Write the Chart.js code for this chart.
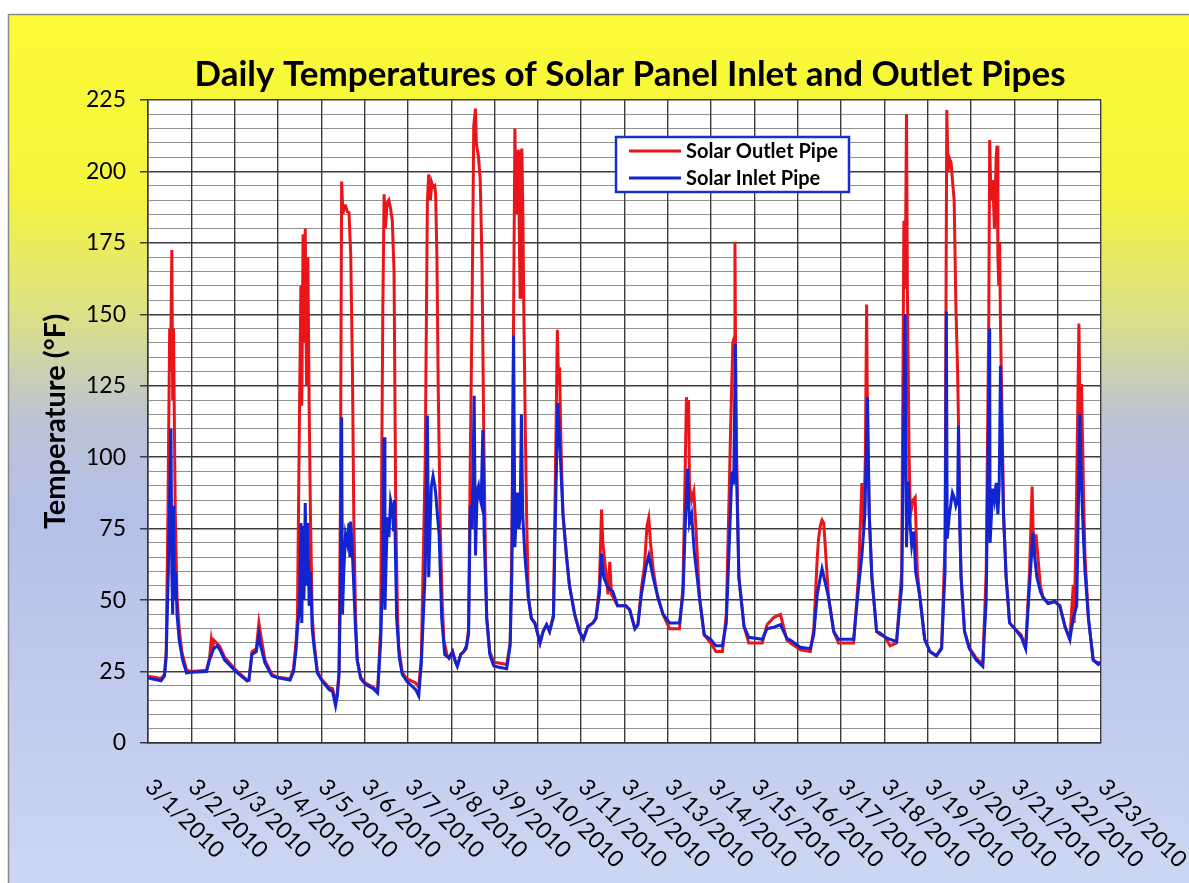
<!DOCTYPE html>
<html>
<head>
<meta charset="utf-8">
<script src="https://cdn.jsdelivr.net/npm/chart.js@4.4.1/dist/chart.umd.min.js"></script>
<style>
  html, body { margin: 0; padding: 0; background: #fff; }
  canvas { display: block; }
</style>
</head>
<body>
<canvas id="myChart" width="1189" height="883"></canvas>
<script>
const ctx = document.getElementById('myChart');

const chartTitle = 'Daily Temperatures of Solar Panel Inlet and Outlet Pipes'
const yTitle = 'Temperature (°F)'
const dayLabels = ['3/1/2010', '3/2/2010', '3/3/2010', '3/4/2010', '3/5/2010', '3/6/2010', '3/7/2010', '3/8/2010',
    '3/9/2010', '3/10/2010', '3/11/2010', '3/12/2010', '3/13/2010', '3/14/2010', '3/15/2010', '3/16/2010',
    '3/17/2010', '3/18/2010', '3/19/2010', '3/20/2010', '3/21/2010', '3/22/2010', '3/23/2010']

// time in days after 3/1/2010 00:00, temperature in °F
const outletDays = [0, 0.3, 0.38, 0.42, 0.46, 0.5, 0.52, 0.55, 0.57, 0.59, 0.61, 0.63, 0.67, 0.72, 0.78, 0.89,
    1.0, 1.35, 1.42, 1.46, 1.49, 1.52, 1.58, 1.65, 1.77, 2.03, 2.29, 2.33, 2.4, 2.5, 2.56, 2.6, 2.7, 2.86,
    3.0, 3.28, 3.36, 3.42, 3.45, 3.5, 3.53, 3.55, 3.58, 3.6, 3.63, 3.66, 3.69, 3.72, 3.75, 3.79, 3.83, 3.91,
    4.02, 4.18, 4.26, 4.33, 4.37, 4.41, 4.44, 4.47, 4.5, 4.53, 4.56, 4.6, 4.64, 4.68, 4.72, 4.75, 4.79, 4.83, 4.91,
    5.02, 5.2, 5.3, 5.37, 5.42, 5.45, 5.48, 5.52, 5.56, 5.6, 5.64, 5.68, 5.72, 5.76, 5.79, 5.87, 5.98,
    6.18, 6.25, 6.31, 6.4, 6.45, 6.48, 6.52, 6.55, 6.58, 6.62, 6.64, 6.67, 6.7, 6.75, 6.79, 6.83, 6.9, 6.95,
    7.03, 7.1, 7.14, 7.22, 7.29, 7.35, 7.4, 7.44, 7.48, 7.52, 7.56, 7.58, 7.63, 7.67, 7.71, 7.75, 7.79, 7.82, 7.89, 7.98,
    8.1, 8.28, 8.36, 8.4, 8.44, 8.47, 8.5, 8.53, 8.55, 8.57, 8.59, 8.61, 8.63, 8.65, 8.67, 8.68, 8.71, 8.74, 8.78, 8.85, 8.93,
    9.05, 9.12, 9.2, 9.27, 9.36, 9.42, 9.45, 9.48, 9.5, 9.54, 9.58, 9.66, 9.73, 9.85, 9.96,
    10.05, 10.15, 10.27, 10.34, 10.42, 10.47, 10.5, 10.57, 10.62, 10.66, 10.7, 10.84,
    11.03, 11.12, 11.24, 11.31, 11.39, 11.46, 11.52, 11.56, 11.6, 11.66, 11.72, 11.77, 11.89,
    12.04, 12.27, 12.35, 12.4, 12.43, 12.46, 12.48, 12.5, 12.55, 12.6, 12.65, 12.73, 12.84, 12.99,
    13.11, 13.26, 13.35, 13.4, 13.45, 13.5, 13.53, 13.55, 13.57, 13.6, 13.64, 13.76, 13.87,
    14.18, 14.29, 14.45, 14.6, 14.75, 14.83,
    15.06, 15.29, 15.37, 15.45, 15.48, 15.52, 15.56, 15.6, 15.65, 15.71, 15.83, 15.94,
    16.29, 16.4, 16.48, 16.52, 16.56, 16.59, 16.61, 16.65, 16.71, 16.82, 16.9,
    17.02, 17.13, 17.28, 17.4, 17.45, 17.48, 17.51, 17.53, 17.57, 17.6, 17.66, 17.71, 17.76, 17.82, 17.93,
    18.05, 18.2, 18.32, 18.4, 18.44, 18.47, 18.5, 18.54, 18.57, 18.61, 18.65, 18.69, 18.71, 18.74, 18.77, 18.85, 18.96,
    19.12, 19.27, 19.35, 19.41, 19.43, 19.46, 19.5, 19.54, 19.58, 19.6, 19.62, 19.64, 19.66, 19.68, 19.72, 19.75, 19.81, 19.89,
    20.01, 20.16, 20.26, 20.35, 20.41, 20.44, 20.47, 20.5, 20.55, 20.6, 20.66, 20.78, 20.93,
    21.05, 21.17, 21.28, 21.36, 21.38, 21.42, 21.44, 21.49, 21.52, 21.55, 21.6, 21.63, 21.71, 21.82, 21.94, 22.0]
const outletTemps = [23.4, 22.6, 24, 32, 80, 145, 130, 172.5, 120, 145, 110, 80, 51, 40, 32, 25.5,
    25, 25.5, 29.7, 36, 33, 36, 35, 34, 30, 25.5, 22, 22, 32, 33, 42, 38, 29, 24,
    23, 22.5, 26, 36, 44, 120, 160, 118, 178, 140, 180, 125, 170, 118, 80, 45, 36, 25,
    22, 19.5, 19, 14.5, 17.5, 25, 80, 196.5, 185, 188, 188, 186, 185.6, 171, 130, 80, 45, 29, 23,
    21, 19.5, 18, 40, 150, 192, 180, 189, 190, 187, 182.7, 165, 80, 45, 33.4, 24.6, 22.4,
    21, 19.5, 30, 100, 190, 199, 190, 196, 194.5, 195, 192, 170, 124, 73, 50, 36, 31, 29.7,
    32, 28.3, 27, 31, 32, 33, 40, 100, 150, 216, 222, 210, 205, 197, 168, 109.5, 65.6, 43.6, 32, 28.3,
    28, 27.5, 35, 70, 150, 215, 185, 200, 207.6, 180, 156, 205, 208, 190, 160, 146, 110, 80, 51, 43.6, 42,
    35, 39, 41.4, 39, 45, 110, 144.6, 125, 131.5, 100, 80, 65.6, 55, 45, 39,
    36.3, 40.7, 42, 43.6, 55, 81.7, 70, 59.7, 52, 63.4, 52, 48,
    48, 46.6, 40, 41.4, 54, 62, 76, 78.8, 70, 61, 55, 51, 45,
    40, 40, 55, 95, 121, 115, 120, 90, 85, 88, 75, 51, 37.8, 35,
    32, 32, 45, 77, 110, 140, 141.7, 175.4, 120, 90, 58, 40.7, 35,
    35, 41.4, 44, 45, 36, 35,
    32.6, 32, 40, 65, 71.5, 76, 78, 77, 65, 51, 39, 35,
    35, 58, 91, 75, 100, 153.4, 110, 80, 58, 39, 38,
    37, 34, 35, 60, 182.7, 159, 220, 160, 100, 80, 85, 86, 60, 51, 36.3,
    32, 30.5, 33.4, 70, 221.5, 200, 204.7, 203, 197, 190, 153, 130, 112, 80, 58, 39, 33.4,
    29.7, 27.5, 60, 150, 211, 190, 197, 180, 205, 209, 170, 160, 175, 146, 110, 80, 58, 42,
    40, 37.8, 33.4, 60, 89.7, 70, 68.5, 73, 64, 55, 51, 48.8, 49.5,
    48, 40.7, 36.3, 55.3, 42, 70, 90.5, 146.8, 110, 125.6, 85, 65.6, 43.6, 29, 28, 28.3]

const inletDays = [0, 0.3, 0.38, 0.42, 0.47, 0.53, 0.55, 0.57, 0.59, 0.61, 0.64, 0.67, 0.72, 0.8, 0.89,
    1.0, 1.35, 1.42, 1.46, 1.52, 1.6, 1.68, 1.77, 2.03, 2.29, 2.33, 2.4, 2.5, 2.56, 2.6, 2.7, 2.86,
    3.0, 3.28, 3.36, 3.42, 3.45, 3.5, 3.53, 3.55, 3.58, 3.6, 3.63, 3.66, 3.69, 3.72, 3.75, 3.79, 3.83, 3.91,
    4.02, 4.18, 4.26, 4.33, 4.37, 4.41, 4.44, 4.47, 4.49, 4.52, 4.56, 4.6, 4.64, 4.66, 4.68, 4.72, 4.75, 4.79, 4.83, 4.91,
    5.02, 5.2, 5.3, 5.37, 5.42, 5.45, 5.47, 5.5, 5.53, 5.56, 5.6, 5.64, 5.67, 5.69, 5.72, 5.74, 5.8, 5.87, 5.98,
    6.18, 6.25, 6.31, 6.4, 6.45, 6.48, 6.52, 6.54, 6.58, 6.62, 6.64, 6.68, 6.72, 6.78, 6.85, 6.95,
    7.03, 7.1, 7.14, 7.22, 7.29, 7.35, 7.4, 7.44, 7.48, 7.53, 7.56, 7.6, 7.63, 7.66, 7.69, 7.73, 7.76, 7.82, 7.89, 7.98,
    8.1, 8.28, 8.36, 8.4, 8.44, 8.47, 8.5, 8.53, 8.56, 8.59, 8.62, 8.65, 8.7, 8.78, 8.85, 8.93,
    9.05, 9.12, 9.2, 9.27, 9.36, 9.42, 9.46, 9.5, 9.58, 9.66, 9.73, 9.85, 9.96,
    10.05, 10.15, 10.27, 10.34, 10.42, 10.47, 10.52, 10.6, 10.65, 10.73, 10.84,
    11.03, 11.12, 11.24, 11.31, 11.39, 11.5, 11.56, 11.66, 11.77, 11.89,
    12.04, 12.27, 12.35, 12.4, 12.46, 12.5, 12.55, 12.61, 12.73, 12.84, 12.99,
    13.11, 13.26, 13.35, 13.42, 13.48, 13.52, 13.56, 13.58, 13.64, 13.76, 13.87,
    14.18, 14.29, 14.45, 14.6, 14.75, 14.83,
    15.06, 15.29, 15.37, 15.45, 15.52, 15.56, 15.62, 15.71, 15.83, 15.94,
    16.29, 16.4, 16.48, 16.55, 16.61, 16.65, 16.71, 16.82, 16.9,
    17.02, 17.13, 17.28, 17.4, 17.46, 17.48, 17.51, 17.55, 17.6, 17.63, 17.68, 17.72, 17.82, 17.93,
    18.05, 18.2, 18.32, 18.4, 18.43, 18.45, 18.5, 18.57, 18.61, 18.65, 18.69, 18.71, 18.74, 18.77, 18.85, 18.96,
    19.12, 19.27, 19.35, 19.43, 19.44, 19.5, 19.54, 19.58, 19.62, 19.65, 19.68, 19.72, 19.75, 19.81, 19.89,
    20.01, 20.16, 20.26, 20.35, 20.43, 20.47, 20.52, 20.6, 20.66, 20.78, 20.93,
    21.05, 21.17, 21.28, 21.36, 21.44, 21.49, 21.51, 21.55, 21.6, 21.63, 21.71, 21.82, 21.94, 22.0]
const inletTemps = [22.8, 21.8, 23.5, 30, 60, 110, 60, 45, 83, 50, 60, 45, 36, 29, 24.5,
    24.8, 25, 29, 31, 33, 34, 32, 29, 25, 21.7, 22, 31, 32, 38, 34, 28, 23.5,
    22.8, 22, 25, 33, 40, 48, 77, 42, 76, 50, 84, 55, 77, 48, 60, 40, 34, 24.5,
    21.7, 18.7, 18, 13, 16.5, 24, 50, 114, 45, 60, 73, 70, 77, 65, 77.5, 66, 55, 40, 29, 22.5,
    20.5, 19, 17.5, 35, 60, 107, 46.6, 65, 79, 72, 85, 82, 74, 85, 60, 43.6, 30, 24, 21.5,
    18.7, 16.5, 28, 60, 114.6, 58, 80, 89.7, 93.4, 90, 87.6, 80, 73, 43.6, 31, 29.7,
    32, 28.3, 26.8, 31, 32, 34, 38, 83, 75, 121.5, 65.6, 88.4, 90, 86, 84, 109.5, 73, 43.6, 31, 27,
    26.5, 26, 34, 60, 142.5, 68.5, 80, 87.6, 75, 79, 115, 80, 65.6, 51, 43.6, 42,
    35, 39, 41.4, 39, 44, 90, 119, 106.6, 80, 65.6, 55, 45, 39,
    36.3, 40.7, 42, 43.6, 52, 66.3, 58, 55, 53.9, 53, 48,
    48, 46.6, 40, 41.4, 52, 62, 65.6, 58, 51, 45,
    42, 42, 52, 75, 96, 77, 80, 67, 51, 37.8, 36.3,
    34, 34, 42, 70, 95, 90.5, 139.5, 100, 58, 40.7, 37,
    36.3, 40, 40.5, 41.4, 36.5, 36,
    33.5, 33, 38, 52, 58, 61, 57, 51, 39, 36.3,
    36.3, 54, 65.6, 80, 121, 80, 58, 39, 38.5,
    37, 36.3, 35.5, 55, 130, 150, 68.5, 91.5, 75, 69, 74, 60, 51, 36.3,
    32, 30.5, 33, 60, 151, 71.5, 80, 87.6, 86, 83, 85, 111, 75, 58, 39, 33,
    29, 26.8, 50, 145, 70, 89, 85, 91, 80, 90, 132, 100, 80, 58, 42,
    40, 37, 33, 55, 73.6, 65, 58, 53, 51, 48.8, 49.5,
    48, 40.7, 36.3, 43.6, 48, 95, 115, 90, 70, 60, 43.6, 29, 27.5, 28.3]

const toPoints = (days, temps) => days.map((d, i) => ({ x: d, y: temps[i] }))

// background panel, title, slanted date labels and the boxed legend
const decorations = {
    id: 'decorations',
    beforeDraw(chart) {
        const c = chart.ctx
        const area = chart.chartArea
        c.save()
        c.fillStyle = '#ffffff'
        c.fillRect(0, 0, chart.width, chart.height)
        let grad = c.createLinearGradient(0, 14, 0, chart.height)
        grad.addColorStop(0, '#fafa38')
        grad.addColorStop(0.2, '#f5f53c')
        grad.addColorStop(0.35, '#dcdf88')
        grad.addColorStop(0.47, '#bac3d6')
        grad.addColorStop(0.58, '#b5c0e8')
        grad.addColorStop(1, '#ccd7f3')
        c.fillStyle = grad
        c.fillRect(8, 14, chart.width - 8, chart.height - 14)
        c.strokeStyle = '#8a8a8a'
        c.lineWidth = 1.5
        c.beginPath()
        c.moveTo(8.5, chart.height)
        c.lineTo(8.5, 14.5)
        c.lineTo(chart.width, 14.5)
        c.stroke()
        c.fillStyle = '#ffffff'
        c.fillRect(area.left, area.top, area.right - area.left, area.bottom - area.top)
        c.restore()
    },
    afterDraw(chart) {
        const c = chart.ctx
        const xScale = chart.scales.x
        c.save()
        c.fillStyle = '#000'
        c.font = 'bold 35px Lato'
        c.textAlign = 'center'
        c.textBaseline = 'middle'
        c.fillText(chartTitle, 630, 75)

        c.font = '23px Lato'
        c.textAlign = 'left'
        dayLabels.forEach((label, i) => {
            const px = xScale.getPixelForValue(i)
            c.save()
            c.translate(px + 1, 783)
            c.rotate(Math.PI / 4)
            c.fillText(label, 0, 0)
            c.restore()
        })

        // legend
        const lx = 616, ly = 137, lw = 233, lh = 55
        c.fillStyle = '#fff'
        c.fillRect(lx, ly, lw, lh)
        c.strokeStyle = '#1a2fd0'
        c.lineWidth = 2.5
        c.strokeRect(lx, ly, lw, lh)
        c.font = 'bold 20px Lato'
        c.textBaseline = 'middle'
        chart.data.datasets.forEach((ds, i) => {
            const yy = ly + 14 + i * 27
            c.strokeStyle = ds.borderColor
            c.lineWidth = 3
            c.beginPath()
            c.moveTo(lx + 13, yy)
            c.lineTo(lx + 65, yy)
            c.stroke()
            c.fillStyle = '#000'
            c.fillText(ds.label, lx + 70, yy + 1)
        })
        c.restore()
    }
}

new Chart(ctx, {
    type: 'line',
    data: {
        datasets: [{
            label: 'Solar Outlet Pipe',
            data: toPoints(outletDays, outletTemps),
            borderColor: '#e8161b',
            borderWidth: 3,
            pointRadius: 0,
            tension: 0,
            order: 1
        }, {
            label: 'Solar Inlet Pipe',
            data: toPoints(inletDays, inletTemps),
            borderColor: '#1224d2',
            borderWidth: 3,
            pointRadius: 0,
            tension: 0,
            order: 0
        }]
    },
    options: {
        responsive: false,
        animation: false,
        layout: { padding: { left: 0, right: 88, top: 100, bottom: 0 } },
        plugins: {
            legend: { display: false },
            title: { display: false },
            tooltip: { enabled: false }
        },
        scales: {
            x: {
                type: 'linear',
                min: 0,
                max: 22,
                ticks: { stepSize: 1, display: false },
                grid: { color: '#3c3c3c', lineWidth: 1.4, drawTicks: false },
                border: { color: '#333', width: 1.5 },
                afterFit: scale => { scale.height = 140 }
            },
            y: {
                min: 0,
                max: 225,
                ticks: {
                    stepSize: 5,
                    autoSkip: false,
                    padding: 14,
                    color: '#000',
                    font: { family: 'Lato', size: 23 },
                    callback: v => v % 25 === 0 ? v : ''
                },
                grid: {
                    color: c => c.tick && c.tick.value % 25 === 0 ? '#3c3c3c' : 'rgba(70,70,70,0.6)',
                    lineWidth: c => c.tick && c.tick.value % 25 === 0 ? 1.5 : 1,
                    tickLength: 8,
                    tickColor: c => c.tick && c.tick.value % 25 === 0 ? '#3c3c3c' : 'rgba(0,0,0,0)'
                },
                border: { color: '#333', width: 1.5 },
                title: {
                    display: true,
                    text: yTitle,
                    color: '#000',
                    font: { family: 'Lato', size: 29, weight: 'bold' },
                    padding: { top: 38, bottom: 0 }
                },
                afterFit: scale => { scale.width = 148 }
            }
        }
    },
    plugins: [decorations]
});
</script>
</body>
</html>
